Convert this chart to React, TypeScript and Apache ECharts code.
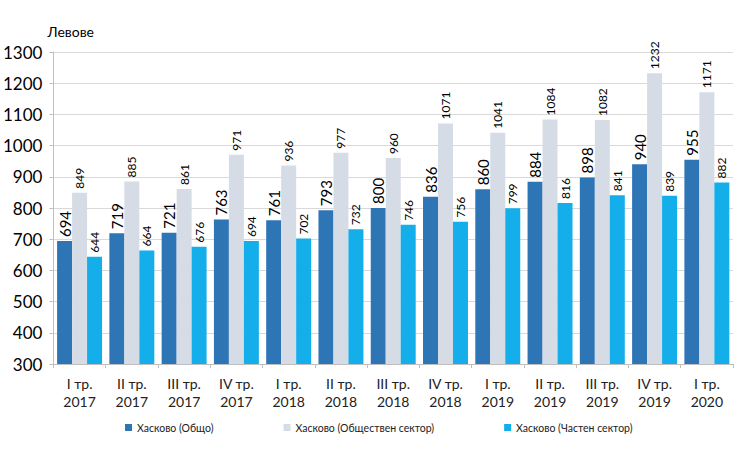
import React, { useEffect, useRef } from "react";
import * as echarts from "echarts";

const categories = [
  "I тр.\n2017", "II тр.\n2017", "III тр.\n2017", "IV тр.\n2017",
  "I тр.\n2018", "II тр.\n2018", "III тр.\n2018", "IV тр.\n2018",
  "I тр.\n2019", "II тр.\n2019", "III тр.\n2019", "IV тр.\n2019",
  "I тр.\n2020",
];
const total = [694, 719, 721, 763, 761, 793, 800, 836, 860, 884, 898, 940, 955];
const publicSector = [849, 885, 861, 971, 936, 977, 960, 1071, 1041, 1084, 1082, 1232, 1171];
const privateSector = [644, 664, 676, 694, 702, 732, 746, 756, 799, 816, 841, 839, 882];
const seriesNames = ["Хасково (Общо)", "Хасково (Обществен сектор)", "Хасково (Частен сектор)"];
const colors = ["#2E75B6", "#D6DCE5", "#14AEEA"];

const FONT = "Lato, 'Liberation Sans', sans-serif";

export default function App() {
  const ref = useRef<HTMLDivElement>(null);
  useEffect(() => {
    if (!ref.current) return;
    const chart = echarts.init(ref.current, undefined, { renderer: "svg" });
    const mkLabel = (size: number) => ({
      show: true,
      position: "top",
      rotate: 90,
      align: "left",
      verticalAlign: "middle",
      distance: 4,
      fontSize: size,
      color: "#000",
      fontFamily: FONT,
    });
    chart.setOption({
      animation: false,
      textStyle: { fontFamily: FONT },
      grid: { left: 51, right: 17, top: 52, bottom: 88, containLabel: false },
      legend: {
        bottom: 14,
        left: 120,
        itemWidth: 7,
        itemHeight: 7,
        itemGap: 70,
        icon: "rect",
        textStyle: { fontSize: 10.5, color: "#222", fontFamily: FONT },
        data: seriesNames,
      },
      xAxis: {
        type: "category",
        data: categories,
        axisLine: { lineStyle: { color: "#BFBFBF" } },
        axisTick: { show: true, length: 4, lineStyle: { color: "#BFBFBF" } },
        axisLabel: { fontSize: 14, color: "#222", lineHeight: 18, margin: 10, fontFamily: FONT },
      },
      yAxis: {
        type: "value",
        min: 300,
        max: 1300,
        interval: 100,
        name: "Левове",
        nameLocation: "end",
        nameGap: 14,
        nameTextStyle: { fontSize: 14, color: "#000", align: "left", padding: [0, 0, 0, -6], fontFamily: FONT },
        axisLine: { show: true, lineStyle: { color: "#BFBFBF" } },
        axisTick: { show: true, length: 4, lineStyle: { color: "#BFBFBF" } },
        axisLabel: { fontSize: 17, color: "#000", margin: 11, fontFamily: FONT, formatter: (v: number) => String(v) },
        splitLine: { lineStyle: { color: "#D9D9D9" } },
      },
      series: [
        {
          name: seriesNames[0], type: "bar", data: total,
          itemStyle: { color: colors[0] }, label: mkLabel(15),
          barGap: "0%", barCategoryGap: "14%",
        },
        {
          name: seriesNames[1], type: "bar", data: publicSector,
          itemStyle: { color: colors[1] }, label: mkLabel(12),
        },
        {
          name: seriesNames[2], type: "bar", data: privateSector,
          itemStyle: { color: colors[2] }, label: mkLabel(12),
        },
      ],
    });
    return () => chart.dispose();
  }, []);
  return <div ref={ref} style={{ width: 750, height: 452, position: "absolute", left: 0, top: 0 }} />;
}
